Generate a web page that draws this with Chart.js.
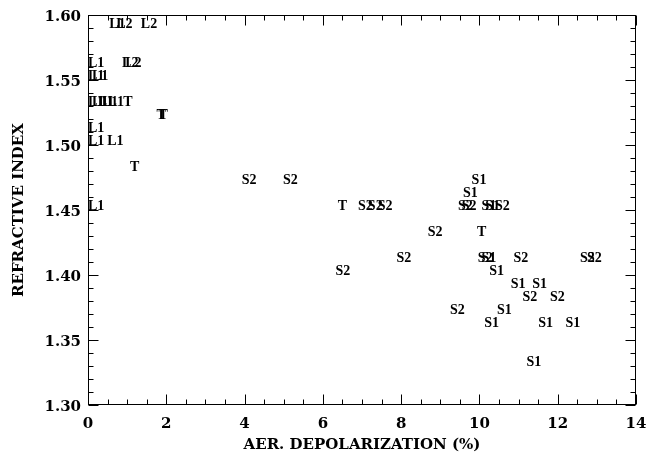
<!DOCTYPE html>
<html><head><meta charset="utf-8">
<script src="https://cdn.jsdelivr.net/npm/chart.js@4/dist/chart.umd.min.js"></script>
<style>html,body{margin:0;padding:0;background:#fff;}canvas{display:block;}</style>
</head><body>
<canvas id="c" width="649" height="456"></canvas>
<script>
// ---- data (aerosol depolarization %, refractive index) ----
const L1_x = [0.54, 0, 0, 0.1, 0, 0.1, 0.25, 0.35, 0.5, 0, 0, 0.49, 0];
const L1_y = [1.59, 1.56, 1.55, 1.55, 1.53, 1.53, 1.53, 1.53, 1.53, 1.51, 1.50, 1.50, 1.45];
const L2_x = [0.72, 1.35, 0.87, 0.95];
const L2_y = [1.59, 1.59, 1.56, 1.56];
const T_x = [0.9, 1.75, 1.8, 1.07, 6.38, 9.94];
const T_y = [1.53, 1.52, 1.52, 1.48, 1.45, 1.43];
const S1_x = [9.8, 9.58, 10.05, 10.15, 10.05, 10.25, 10.8, 11.35, 10.45, 10.12, 11.5, 12.2, 11.2];
const S1_y = [1.47, 1.46, 1.45, 1.45, 1.41, 1.40, 1.39, 1.39, 1.37, 1.36, 1.36, 1.36, 1.33];
const S2_x = [3.93, 4.98, 6.9, 7.15, 7.4, 9.45, 9.55, 10.4, 8.68, 7.88, 9.96, 10.87, 12.57, 12.75, 6.32, 11.1, 11.8, 9.25];
const S2_y = [1.47, 1.47, 1.45, 1.45, 1.45, 1.45, 1.45, 1.45, 1.43, 1.41, 1.41, 1.41, 1.41, 1.41, 1.40, 1.38, 1.38, 1.37];

const X_MIN = 0, X_MAX = 14, X_MAJOR = 2, X_MINOR = 0.5;
const Y_MIN = 1.30, Y_MAX = 1.60, Y_MAJOR = 0.05, Y_MINOR = 0.01;
const X_TITLE = 'AER. DEPOLARIZATION (%)';
const Y_TITLE = 'REFRACTIVE INDEX';

const series = [
  {label: 'L1', xs: L1_x, ys: L1_y},
  {label: 'L2', xs: L2_x, ys: L2_y},
  {label: 'T',  xs: T_x,  ys: T_y},
  {label: 'S1', xs: S1_x, ys: S1_y},
  {label: 'S2', xs: S2_x, ys: S2_y}
];

const datasets = series.map(s => ({
  label: s.label,
  data: s.xs.map((x, i) => ({x: x, y: s.ys[i]})),
  pointRadius: 0,
  pointHoverRadius: 0,
  showLine: false
}));

const textLabels = {
  id: 'textLabels',
  afterDatasetsDraw(chart) {
    const ctx = chart.ctx;
    ctx.save();
    ctx.font = 'bold 14px "Liberation Serif"';
    ctx.fillStyle = '#000';
    ctx.textAlign = 'left';
    ctx.textBaseline = 'alphabetic';
    chart.data.datasets.forEach((ds, i) => {
      chart.getDatasetMeta(i).data.forEach(pt => ctx.fillText(ds.label, pt.x, pt.y));
    });
    ctx.restore();
  }
};

const frame = {
  id: 'frame',
  afterDraw(chart) {
    const {ctx, chartArea, scales} = chart;
    const {left, right, top, bottom} = chartArea;
    ctx.save();
    ctx.strokeStyle = '#000';
    ctx.lineWidth = 1;
    const L = Math.round(left) + 0.5, R = Math.round(right) - 0.5;
    const T = Math.round(top) + 0.5, B = Math.round(bottom) - 0.5;
    ctx.strokeRect(L, T, R - L, B - T);
    ctx.beginPath();
    const nx = Math.round((X_MAX - X_MIN) / X_MINOR);
    const rx = Math.round(X_MAJOR / X_MINOR);
    for (let k = 0; k <= nx; k++) {
      const v = X_MIN + k * X_MINOR;
      const px = Math.round(scales.x.getPixelForValue(v)) + 0.5;
      const len = (k % rx === 0) ? 10 : 5;
      ctx.moveTo(px, B); ctx.lineTo(px, B - len);
      ctx.moveTo(px, T); ctx.lineTo(px, T + len);
    }
    const ny = Math.round((Y_MAX - Y_MIN) / Y_MINOR);
    const ry = Math.round(Y_MAJOR / Y_MINOR);
    for (let k = 0; k <= ny; k++) {
      const v = Y_MIN + k * Y_MINOR;
      const py = Math.round(scales.y.getPixelForValue(v)) + 0.5;
      const len = (k % ry === 0) ? 10 : 5;
      ctx.moveTo(L, py); ctx.lineTo(L + len, py);
      ctx.moveTo(R, py); ctx.lineTo(R - len, py);
    }
    ctx.stroke();
    ctx.restore();
  }
};

const tickFont = {family: '"DejaVu Serif"', size: 15, weight: 'bold'};
const titleFont = {family: '"DejaVu Serif"', size: 15, weight: 'bold'};

new Chart(document.getElementById('c'), {
  type: 'scatter',
  data: {datasets: datasets},
  options: {
    responsive: false,
    animation: false,
    devicePixelRatio: 1,
    layout: {padding: {left: 0, top: 15, right: 13, bottom: 0}},
    plugins: {legend: {display: false}, tooltip: {enabled: false}},
    events: [],
    scales: {
      x: {
        type: 'linear', min: X_MIN, max: X_MAX,
        grid: {display: false, drawTicks: false},
        border: {display: false},
        ticks: {stepSize: X_MAJOR, color: '#000', font: tickFont, padding: 10, maxRotation: 0,
                callback: v => String(v)},
        title: {display: true, text: X_TITLE, color: '#000', font: titleFont, padding: {top: 0, bottom: 2}},
        afterFit: s => { s.height = 51; s.paddingLeft = 0; s.paddingRight = 0; }
      },
      y: {
        type: 'linear', min: Y_MIN, max: Y_MAX,
        grid: {display: false, drawTicks: false},
        border: {display: false},
        ticks: {stepSize: Y_MAJOR, color: '#000', font: tickFont, padding: 7, labelOffset: 2,
                callback: v => Number(v).toFixed(2)},
        title: {display: true, text: Y_TITLE, color: '#000', font: titleFont, padding: {top: 10, bottom: 0}},
        afterFit: s => { s.width = 88; s.paddingTop = 0; s.paddingBottom = 0; }
      }
    }
  },
  plugins: [textLabels, frame]
});
</script>
</body></html>
